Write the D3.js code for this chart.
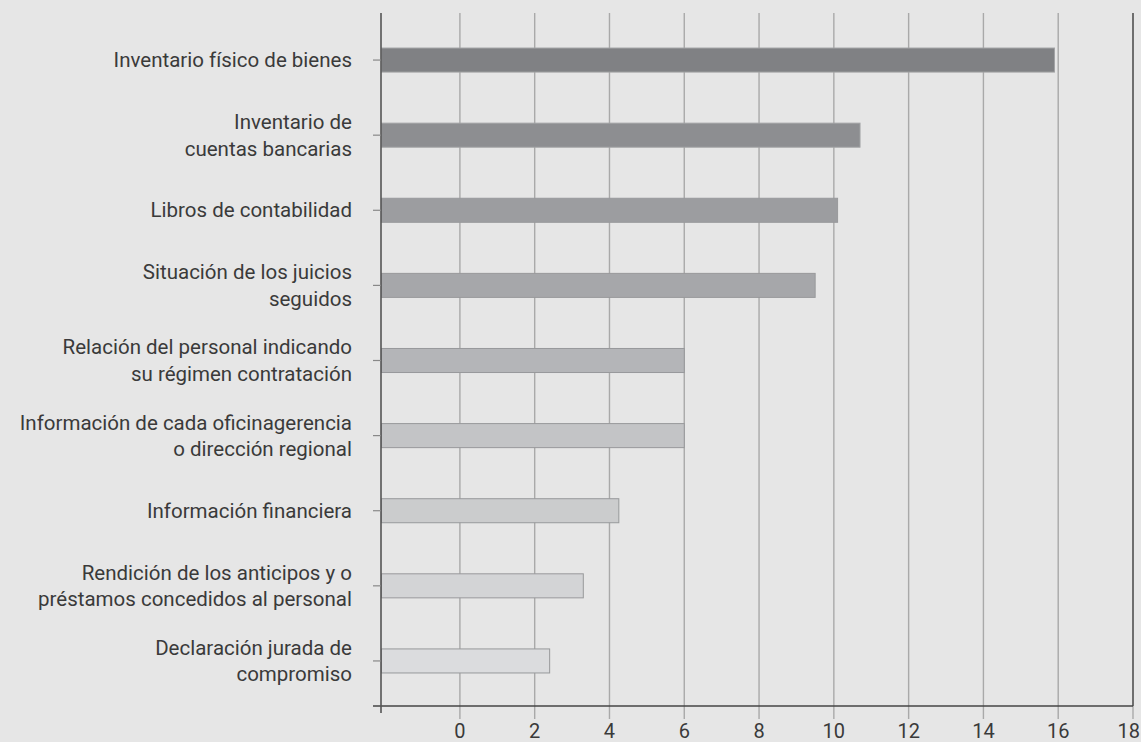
<!DOCTYPE html>
<html><head><meta charset="utf-8">
<script src="https://cdn.jsdelivr.net/npm/d3@7"></script>
<style>
html,body{margin:0;padding:0;background:#e6e6e6;}
svg{display:block;}
text{font-family:Roboto, "Noto Sans", sans-serif;fill:#3a3a3a;}
</style></head>
<body>
<script>
const categories = [
  ["Inventario físico de bienes"],
  ["Inventario de", "cuentas bancarias"],
  ["Libros de contabilidad"],
  ["Situación de los juicios", "seguidos"],
  ["Relación del personal indicando", "su régimen contratación"],
  ["Información de cada oficinagerencia", "o dirección regional"],
  ["Información financiera"],
  ["Rendición de los anticipos y o", "préstamos concedidos al personal"],
  ["Declaración jurada de", "compromiso"]
];
const values = [15.9, 10.7, 10.1, 9.5, 6.0, 6.0, 4.25, 3.3, 2.4];
const barColors = ["#808184", "#8d8e91", "#9c9da0", "#a6a7aa", "#b4b5b8", "#c3c4c6", "#cbcccd", "#d3d4d6", "#dbdcde"];
const tickValues = [0, 2, 4, 6, 8, 10, 12, 14, 16, 18];
const xMin = -2.11, xMax = 18;

(function () {
const W = 1141, H = 742;
const svg = d3.select("body").append("svg").attr("width", W).attr("height", H);
svg.append("rect").attr("width", W).attr("height", H).attr("fill", "#e6e6e6");

const mLeft = 381, mRight = 1133, mTop = 13, mBottom = 706;
const x = d3.scaleLinear().domain([xMin, xMax]).range([mLeft, mRight]);
const ids = categories.map((c, i) => i);
const y = d3.scaleBand().domain(ids).range([22.5, 698.5]).paddingInner(0.68).paddingOuter(0.34);

// gridlines
svg.append("g").selectAll("line").data(tickValues).join("line")
  .attr("x1", d => x(d)).attr("x2", d => x(d))
  .attr("y1", mTop).attr("y2", mBottom + 13)
  .attr("stroke", "#a9a9a9").attr("stroke-width", 1.4);

// bars
svg.append("g").selectAll("rect").data(values).join("rect")
  .attr("x", x(xMin) + 0.5)
  .attr("y", (d, i) => y(i))
  .attr("width", d => x(d) - x(xMin) - 0.5)
  .attr("height", y.bandwidth())
  .attr("fill", (d, i) => barColors[i])
  .attr("stroke", (d, i) => i < 2 ? "#a2a3a5" : "#98999b").attr("stroke-width", 1);

// right frame line
svg.append("line").attr("x1", mRight).attr("x2", mRight).attr("y1", mTop).attr("y2", mBottom)
  .attr("stroke", "#555").attr("stroke-width", 1.5);

// x axis
const xAxis = svg.append("g").attr("transform", `translate(0,${mBottom})`);
xAxis.append("line").attr("x1", mLeft - 8).attr("x2", mRight).attr("y1", 0).attr("y2", 0)
  .attr("stroke", "#444").attr("stroke-width", 1.3);
const lastTick = tickValues[tickValues.length - 1];
xAxis.selectAll("text").data(tickValues).join("text")
  .attr("x", d => d === lastTick ? W - 1 : x(d)).attr("y", 32)
  .attr("text-anchor", d => d === lastTick ? "end" : "middle").attr("font-size", 20)
  .text(d => d);

// y axis
svg.append("line").attr("x1", mLeft).attr("x2", mLeft).attr("y1", mTop).attr("y2", mBottom + 7)
  .attr("stroke", "#555").attr("stroke-width", 1.6);
const yg = svg.append("g");
yg.selectAll("line").data(ids).join("line")
  .attr("x1", mLeft - 8).attr("x2", mLeft)
  .attr("y1", i => y(i) + y.bandwidth() / 2).attr("y2", i => y(i) + y.bandwidth() / 2)
  .attr("stroke", "#888").attr("stroke-width", 1.2);

const fs = 20.5, lh = 26.5;
const labels = yg.selectAll("text").data(ids).join("text")
  .attr("text-anchor", "end").attr("font-size", fs)
  .attr("transform", i => `translate(352,${y(i) + y.bandwidth() / 2})`);
labels.each(function(i) {
  const lines = categories[i];
  const t = d3.select(this);
  const off = -(lines.length - 1) * lh / 2;
  lines.forEach((ln, k) => {
    t.append("tspan").attr("x", 0).attr("y", off + k * lh).attr("dy", "0.35em").text(ln);
  });
});
})();
</script>
</body></html>
